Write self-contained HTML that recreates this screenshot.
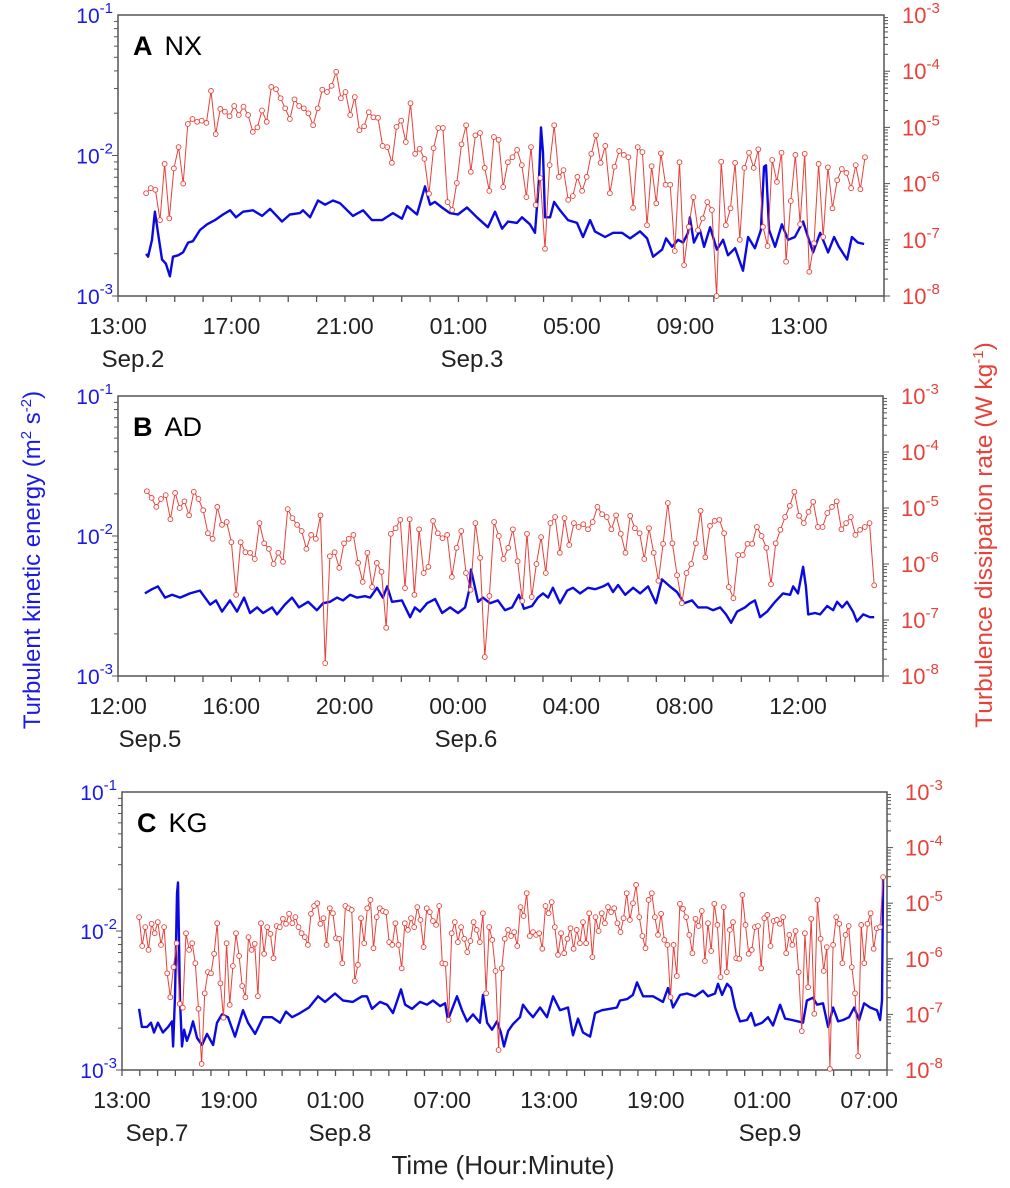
<!DOCTYPE html>
<html><head><meta charset="utf-8"><style>
html,body{margin:0;padding:0;background:#fff}
svg{display:block;font-family:"Liberation Sans",Arial,sans-serif}
</style></head><body>
<svg id="chart" width="1010" height="1188" viewBox="0 0 1010 1188" xmlns="http://www.w3.org/2000/svg">
<text transform="translate(40,560) rotate(-90)" text-anchor="middle" font-size="24" fill="#1a1ae6">Turbulent kinetic energy (m<tspan dy="-9" font-size="15">2</tspan><tspan dy="9"> s</tspan><tspan dy="-9" font-size="15">-2</tspan><tspan dy="9">)</tspan></text>
<text transform="translate(992,535) rotate(-90)" text-anchor="middle" font-size="24.5" fill="#e8413a">Turbulence dissipation rate (W kg<tspan dy="-9" font-size="15">-1</tspan><tspan dy="9">)</tspan></text>
<text x="503" y="1174" text-anchor="middle" font-size="26" fill="#222">Time (Hour:Minute)</text>
</svg>
<script>
// ---- Panel A (NX) data ----
const tkeHoursA=[0.99,1.06,1.20,1.30,1.41,1.55,1.69,1.83,1.94,2.12,2.29,2.47,2.64,2.89,3.14,3.42,3.70,3.95,4.16,4.41,4.76,5.08,5.36,5.78,6.06,6.41,6.52,6.77,7.05,7.30,7.58,7.83,8.28,8.64,8.95,9.31,9.69,10.01,10.19,10.54,10.82,11.0,11.17,11.42,11.70,11.98,12.30,12.65,13.04,13.29,13.54,13.75,14.06,14.24,14.52,14.70,14.84,14.91,14.98,15.05,15.23,15.37,15.58,15.86,16.18,16.39,16.64,16.81,17.17,17.45,17.76,18.05,18.40,18.65,18.86,19.18,19.32,19.53,19.74,19.92,20.09,20.16,20.30,20.51,20.66,20.87,21.11,21.33,21.50,21.75,22.03,22.21,22.45,22.66,22.77,22.84,22.95,23.16,23.40,23.62,23.86,24.15,24.32,24.50,24.75,25.03,25.24,25.41,25.70,25.87,26.08,26.30];
const tkeLog10A=[-2.70,-2.72,-2.60,-2.40,-2.55,-2.74,-2.77,-2.86,-2.72,-2.71,-2.69,-2.62,-2.61,-2.53,-2.49,-2.46,-2.42,-2.39,-2.44,-2.40,-2.39,-2.43,-2.38,-2.47,-2.42,-2.41,-2.39,-2.44,-2.32,-2.35,-2.32,-2.34,-2.43,-2.39,-2.46,-2.46,-2.41,-2.45,-2.36,-2.42,-2.22,-2.35,-2.33,-2.37,-2.41,-2.42,-2.37,-2.44,-2.51,-2.40,-2.52,-2.47,-2.48,-2.44,-2.49,-2.55,-2.17,-1.80,-1.98,-2.44,-2.44,-2.33,-2.39,-2.46,-2.48,-2.58,-2.46,-2.54,-2.58,-2.55,-2.55,-2.59,-2.54,-2.59,-2.72,-2.67,-2.59,-2.65,-2.60,-2.62,-2.55,-2.44,-2.62,-2.53,-2.65,-2.51,-2.67,-2.60,-2.71,-2.66,-2.82,-2.58,-2.66,-2.53,-2.08,-2.07,-2.53,-2.65,-2.49,-2.60,-2.58,-2.47,-2.58,-2.69,-2.55,-2.69,-2.58,-2.65,-2.74,-2.58,-2.62,-2.63];
const epsLog10A=[-6.17,-6.08,-6.11,-6.65,-5.65,-6.62,-5.73,-5.35,-6.0,-4.94,-4.85,-4.9,-4.88,-4.92,-4.35,-5.12,-4.67,-4.72,-4.8,-4.62,-4.78,-4.63,-4.78,-5.08,-5.0,-4.7,-4.9,-4.28,-4.32,-4.48,-4.66,-4.85,-4.5,-4.62,-4.66,-4.75,-4.96,-4.66,-4.33,-4.37,-4.26,
-4.01,-4.48,-4.37,-4.78,-4.46,-5.05,-4.98,-4.73,-4.82,-4.83,-5.33,-5.35,-5.63,-4.99,-4.88,-5.26,-4.57,-5.47,-5.38,-5.56,-6.18,-5.37,-5.01,-5.01,-6.33,-6.47,-5.99,-5.3,-4.96,-5.79,-5.14,-5.1,-5.72,-6.13,-5.17,-5.22,-6.06,-5.62,-5.53,-5.4,-5.67,-6.24,-5.35,-6.38,-5.9,-7.16,-5.67,-4.96,-5.88,-5.76,-6.29,-6.22,-5.88,-6.13,-5.88,-5.47,-5.14,-5.63,-5.33,-6.17,-5.7,-5.42,-5.49,-5.53,-6.43,-5.35,-5.44,-6.74,-5.69,-6.35,-5.46,-6.02,-6.02,-7.2,-5.62,-7.45,
-6.77,-6.24,-6.83,-6.62,-6.33,-6.47,-8.0,-5.61,-6.74,-6.44,-5.63,-7.0,-5.72,-5.45,-5.72,-5.39,-6.77,-7.11,-5.58,-5.97,-5.45,-7.39,-6.31,-5.49,-6.72,-5.47,-7.57,-7.06,-5.65,-6.95,-5.71,-6.44,-5.94,-5.74,-5.81,-6.08,-5.67,-6.1,-5.53];
const epsStartA=0.99, epsEndA=26.33;
const xTicksA=["13:00","17:00","21:00","01:00","05:00","09:00","13:00"];
const datesA=["Sep.2","Sep.3"];

// ---- Panel B (AD) data ----
const tkeHoursB=[0.95,1.20,1.41,1.66,1.91,2.19,2.54,2.89,3.25,3.46,3.67,3.95,4.20,4.45,4.66,4.91,5.12,5.44,5.61,5.89,6.14,6.39,6.71,7.02,7.24,7.48,7.73,7.94,8.19,8.44,8.72,8.90,9.14,9.35,9.50,9.67,10.02,10.31,10.48,10.66,10.91,11.19,11.44,11.72,12.0,12.25,12.39,12.46,12.60,12.71,12.88,13.13,13.41,13.66,13.91,14.15,14.33,14.61,14.82,15.0,15.18,15.35,15.60,15.85,16.06,16.31,16.59,16.84,17.12,17.30,17.47,17.65,17.90,18.18,18.43,18.71,18.99,19.20,19.48,19.73,19.98,20.26,20.47,20.79,21.0,21.25,21.46,21.64,21.85,22.13,22.31,22.48,22.66,22.91,23.19,23.47,23.72,23.83,24.0,24.18,24.28,24.36,24.60,24.78,25.03,25.24,25.38,25.56,25.73,25.94,26.08,26.30,26.54,26.69];
const tkeLog10B=[-2.41,-2.38,-2.36,-2.44,-2.42,-2.44,-2.41,-2.39,-2.49,-2.46,-2.54,-2.46,-2.54,-2.44,-2.55,-2.51,-2.55,-2.51,-2.56,-2.49,-2.44,-2.51,-2.47,-2.53,-2.48,-2.47,-2.44,-2.46,-2.42,-2.44,-2.43,-2.44,-2.37,-2.44,-2.36,-2.47,-2.46,-2.58,-2.51,-2.54,-2.48,-2.45,-2.55,-2.51,-2.55,-2.51,-2.39,-2.24,-2.37,-2.47,-2.44,-2.48,-2.46,-2.53,-2.51,-2.42,-2.52,-2.50,-2.44,-2.41,-2.44,-2.37,-2.48,-2.39,-2.37,-2.41,-2.37,-2.38,-2.36,-2.34,-2.40,-2.35,-2.42,-2.37,-2.41,-2.36,-2.48,-2.31,-2.36,-2.40,-2.48,-2.46,-2.51,-2.51,-2.53,-2.51,-2.56,-2.62,-2.54,-2.51,-2.48,-2.46,-2.58,-2.54,-2.47,-2.41,-2.42,-2.36,-2.41,-2.22,-2.36,-2.56,-2.55,-2.56,-2.50,-2.53,-2.47,-2.51,-2.47,-2.54,-2.61,-2.56,-2.58,-2.58];
const epsLog10B=[-4.70,-4.82,-4.98,-4.84,-4.77,-5.20,-4.73,-5.0,-4.88,-5.13,-4.71,-4.84,-5.04,-5.45,-5.55,-4.98,-5.30,-5.25,-5.61,-6.55,-5.61,-5.79,-5.80,-5.91,-5.27,-5.63,-5.73,-6.0,-5.80,-5.96,-5.02,-5.18,-5.30,-5.41,-5.73,-5.48,-5.55,-5.13,-7.77,-5.86,-5.79,-6.07,-5.63,-5.55,-5.48,-5.98,-6.32,-5.80,-6.41,-5.98,-6.14,-7.14,
-5.46,-5.36,-5.21,-6.43,-5.20,-6.55,-5.38,-6.16,-6.05,-5.23,-5.45,-5.54,-5.48,-6.23,-5.71,-5.41,-6.16,-6.46,-5.27,-5.89,-7.66,-6.57,-5.25,-5.50,-5.91,-5.71,-5.38,-5.95,-6.66,-5.46,-6.59,-6.0,-5.52,-6.16,-5.27,-5.16,-5.80,-5.18,-5.66,-5.27,-5.34,-5.29,-5.38,-5.25,-4.98,-5.11,-5.16,-5.38,-5.13,-5.46,-5.80,-5.14,-5.36,-5.45,-5.91,-5.36,-5.80,-6.30,-5.64,-4.91,-5.63,-6.20,-6.70,-6.16,-6.0,-5.63,-5.05,-5.88,-5.32,-5.23,
-5.21,-5.45,-6.41,-6.61,-5.84,-5.84,-5.64,-5.64,-5.34,-5.50,-5.71,-6.36,-5.63,-5.39,-5.16,-4.96,-4.71,-5.14,-5.27,-5.07,-4.89,-5.34,-5.34,-5.09,-4.98,-4.88,-5.38,-5.27,-5.16,-5.48,-5.39,-5.34,-5.27,-6.38];
const epsStartB=1.02, epsEndB=26.69;
const xTicksB=["12:00","16:00","20:00","00:00","04:00","08:00","12:00"];
const datesB=["Sep.5","Sep.6"];

// ---- Panel C (KG) data ----
const tkeHoursC=[0.96,1.12,1.41,1.63,1.80,2.02,2.30,2.59,2.81,2.87,2.98,3.09,3.15,3.26,3.37,3.49,3.65,3.82,3.99,4.22,4.50,4.78,5.12,5.34,5.62,5.96,6.35,6.80,7.08,7.48,7.93,8.43,8.88,9.22,9.56,10.01,10.51,11.02,11.41,11.97,12.42,12.98,13.49,13.77,14.05,14.50,14.90,15.23,15.68,15.91,16.30,16.75,17.14,17.48,17.88,18.16,18.32,18.83,19.11,19.39,19.73,20.12,20.29,20.52,20.80,21.08,21.30,21.47,21.70,21.98,22.37,22.54,22.82,23.10,23.50,23.89,24.23,24.62,25.07,25.35,25.63,25.91,26.31,26.59,26.98,27.43,27.82,27.99,28.39,28.72,28.95,29.29,29.85,30.41,30.69,30.97,31.37,31.76,32.21,32.66,32.94,33.33,33.50,33.73,34.01,34.23,34.46,34.74,35.13,35.36,35.58,35.98,36.31,36.59,36.99,37.27,37.66,38.0,38.28,38.50,38.84,39.07,39.40,39.69,39.97,40.25,40.53,40.87,41.15,41.43,41.71,42.05,42.44,42.61,42.72,42.78];
const tkeLog10C=[-2.56,-2.69,-2.69,-2.66,-2.73,-2.66,-2.73,-2.69,-2.65,-2.83,-2.47,-1.73,-1.65,-2.50,-2.83,-2.71,-2.79,-2.73,-2.65,-2.77,-2.82,-2.74,-2.82,-2.66,-2.60,-2.62,-2.76,-2.57,-2.66,-2.74,-2.62,-2.62,-2.66,-2.58,-2.62,-2.59,-2.55,-2.47,-2.51,-2.45,-2.50,-2.51,-2.47,-2.47,-2.56,-2.51,-2.53,-2.59,-2.42,-2.53,-2.56,-2.51,-2.53,-2.50,-2.54,-2.52,-2.64,-2.47,-2.57,-2.65,-2.60,-2.66,-2.46,-2.66,-2.71,-2.65,-2.73,-2.83,-2.72,-2.67,-2.62,-2.53,-2.58,-2.62,-2.55,-2.62,-2.47,-2.57,-2.55,-2.75,-2.63,-2.73,-2.76,-2.59,-2.57,-2.56,-2.55,-2.50,-2.49,-2.46,-2.37,-2.47,-2.47,-2.51,-2.41,-2.55,-2.46,-2.45,-2.47,-2.43,-2.47,-2.45,-2.38,-2.46,-2.38,-2.41,-2.55,-2.65,-2.64,-2.59,-2.68,-2.66,-2.62,-2.68,-2.53,-2.63,-2.64,-2.65,-2.66,-2.50,-2.48,-2.53,-2.52,-2.69,-2.55,-2.65,-2.64,-2.62,-2.55,-2.64,-2.52,-2.55,-2.57,-2.64,-2.50,-1.61];
const epsLog10C=[-5.25,-5.77,-5.43,-5.84,-5.37,-5.54,-5.34,-5.75,-5.43,-6.26,-6.69,-6.15,-5.72,-6.81,-6.88,-5.54,-5.84,-5.72,-6.08,-6.90,-7.89,-6.62,-6.24,-6.26,-5.91,-5.36,-6.44,-7.06,-5.72,-6.83,-6.13,-5.54,-5.95,-6.49,-6.69,-5.61,-5.84,-5.73,-6.67,-5.36,-5.91,-5.43,-5.55,-5.99,-5.41,-5.43,-5.28,-5.37,-5.19,-5.36,-5.25,-5.43,-5.54,-5.61,-5.75,-5.19,-5.05,-5.0,-5.37,-5.27,-5.75,-5.09,-5.18,-5.63,-5.64,-6.08,-5.05,-5.09,-5.12,-6.40,-6.11,-5.27,-5.72,-5.09,-4.94,-5.81,-5.25,-5.09,-5.14,
-5.16,-5.70,-5.75,-5.36,-5.75,-6.17,-5.36,-5.48,-5.27,-5.43,-5.07,-5.30,-5.79,-5.09,-5.16,-5.32,-5.39,-5.05,-6.08,-6.09,-7.10,-5.54,-5.34,-5.70,-5.43,-5.64,-5.88,-5.68,-5.34,-5.48,-5.70,-5.18,-6.62,-5.43,-5.66,-6.22,-7.64,-6.17,-5.64,-5.48,-5.59,-5.52,-5.77,-5.07,-5.23,-4.82,-5.59,-5.52,-5.57,-5.54,-5.82,-5.05,-5.18,-4.98,-5.43,-5.93,-5.54,-5.90,-5.64,-5.45,-5.82,-5.48,-5.72,-5.34,-5.72,-5.18,-5.97,-5.25,-5.50,-5.18,-5.36,-5.07,-5.16,-5.09,-5.36,-5.52,-5.27,-4.82,-5.30,-5.0,-4.67,-5.25,-5.59,-5.81,-4.94,-4.82,-5.25,-5.57,-5.19,-5.66,-5.75,-6.69,-5.75,-6.31,-5.01,-5.10,-5.25,-5.57,-5.90,-5.28,-5.41,-5.14,-6.04,-5.36,-5.86,-5.01,-5.39,-6.33,
-5.07,-6.24,-5.48,-5.34,-5.99,-6.0,-4.85,-5.39,-5.91,-5.84,-5.43,-5.41,-6.17,-5.27,-5.21,-5.77,-5.32,-5.30,-5.37,-5.25,-5.90,-5.57,-5.75,-5.50,-6.24,-7.30,-5.54,-6.51,-5.28,-6.99,-4.94,-5.64,-6.22,-5.79,-7.98,-5.75,-5.25,-5.37,-6.08,-5.57,-5.41,-6.15,-6.62,-7.75,-5.39,-6.08,-5.37,-5.18,-5.82,-5.45,-5.43,-4.53];
const epsStartC=0.96, epsEndC=42.78;
const xTicksC=["13:00","19:00","01:00","07:00","13:00","19:00","01:00","07:00"];
const datesC=["Sep.7","Sep.8","Sep.9"];

const leftTickExp=["-1","-2","-3"];
const rightTickExp=["-3","-4","-5","-6","-7","-8"];

const NS="http://www.w3.org/2000/svg";
const svg=document.getElementById('chart');
const BLUE="#0a0ae0", RED="#e8413a", AX="#555";
function mk(tag,attrs,parent){const e=document.createElementNS(NS,tag);for(const k in attrs)e.setAttribute(k,attrs[k]);(parent||svg).appendChild(e);return e;}

function drawPanel(cfg,tkeH,tkeL,epsL,eS,eE,xt,dates){
  const g=mk('g',{});
  
  
  const xS=h=>cfg.x0+(cfg.x1-cfg.x0)*h/cfg.hours;
  const yL=v=>cfg.yT+(-1-v)*(cfg.yB-cfg.yT)/2;
  const yR=v=>cfg.yT+(-3-v)*(cfg.yB-cfg.yT)/5;
  const fr=mk('rect',{x:cfg.x0,y:cfg.yT,width:cfg.x1-cfg.x0,height:cfg.yB-cfg.yT,fill:'none',stroke:AX,'stroke-width':1.5},g);
  
  
  for(let h=0;h<=cfg.hours;h++){
    const t=mk('line',{x1:xS(h),x2:xS(h),y1:cfg.yB,y2:cfg.yB+6,stroke:AX,'stroke-width':1.3},g);
    
    
  }
  xt.forEach((lab,i)=>{
    const t=mk('text',{x:xS(i*cfg.step),y:cfg.yB+38,'text-anchor':'middle','font-size':23,fill:'#222'},g);
    t.textContent=lab;
    
    
  });
  dates.forEach((d,i)=>{
    const t=mk('text',{x:cfg.dateX[i],y:cfg.yB+71,'text-anchor':'middle','font-size':24,fill:'#222'},g);
    t.textContent=d;
    
    
  });
  for(let d=0;d<2;d++){for(let m=1;m<=9;m++){const v=-3+d+Math.log10(m);const y=yL(v);
    const t=mk('line',{x1:cfg.x0-(m==1?6:4),x2:cfg.x0,y1:y,y2:y,stroke:AX,'stroke-width':1},g);
    
    }}
  for(let d=0;d<5;d++){for(let m=1;m<=9;m++){const v=-8+d+Math.log10(m);const y=yR(v);
    const t=mk('line',{x1:cfg.x1,x2:cfg.x1+(m==1?6:4),y1:y,y2:y,stroke:AX,'stroke-width':1},g);
    
    }}
  leftTickExp.forEach((e,i)=>{
    const y=yL(-1-i);
    const t=mk('text',{x:cfg.x0-5,y:y+8,'text-anchor':'end','font-size':21,fill:'#1a1ae6'},g);
    t.innerHTML='10<tspan dy="-10" font-size="15">'+e+'</tspan>';
    
    
  });
  rightTickExp.forEach((e,i)=>{
    const y=yR(-3-i);
    const t=mk('text',{x:cfg.x1+18,y:y+8,'text-anchor':'start','font-size':22,fill:RED},g);
    t.innerHTML='10<tspan dy="-10" font-size="15">'+e+'</tspan>';
    
    
  });
  const pl=mk('text',{x:cfg.x0+15,y:cfg.yT+40,'font-size':27,fill:'#000'},g);
  pl.innerHTML='<tspan font-weight="bold">'+cfg.letter+'</tspan><tspan dx="12">'+cfg.site+'</tspan>';
  
  
  const tp=tkeH.map((h,i)=>xS(h).toFixed(1)+','+yL(tkeL[i]).toFixed(1)).join(' ');
  const tl=mk('polyline',{points:tp,fill:'none',stroke:BLUE,'stroke-width':2.4,'stroke-linejoin':'round'},g);
  
  
  const n=epsL.length;
  const eh=i=>eS+(eE-eS)*i/(n-1);
  const ep=epsL.map((v,i)=>xS(eh(i)).toFixed(1)+','+yR(v).toFixed(1)).join(' ');
  const el=mk('polyline',{points:ep,fill:'none',stroke:RED,'stroke-width':1},g);
  
  
  epsL.forEach((v,i)=>{
    const c=mk('circle',{cx:xS(eh(i)).toFixed(1),cy:yR(v).toFixed(1),r:2.4,fill:'#fff',stroke:RED,'stroke-width':0.9},g);
    
    
  });
}
drawPanel({id:'a',letter:'A',site:'NX',x0:118,x1:884,yT:15,yB:296,hours:27,step:4,dateX:[133,472]},tkeHoursA,tkeLog10A,epsLog10A,epsStartA,epsEndA,xTicksA,datesA);
drawPanel({id:'b',letter:'B',site:'AD',x0:118,x1:883,yT:396,yB:676,hours:27,step:4,dateX:[150,466]},tkeHoursB,tkeLog10B,epsLog10B,epsStartB,epsEndB,xTicksB,datesB);
drawPanel({id:'c',letter:'C',site:'KG',x0:122,x1:887,yT:792,yB:1070,hours:43,step:6,dateX:[157,340,770]},tkeHoursC,tkeLog10C,epsLog10C,epsStartC,epsEndC,xTicksC,datesC);
</script>
</body></html>
